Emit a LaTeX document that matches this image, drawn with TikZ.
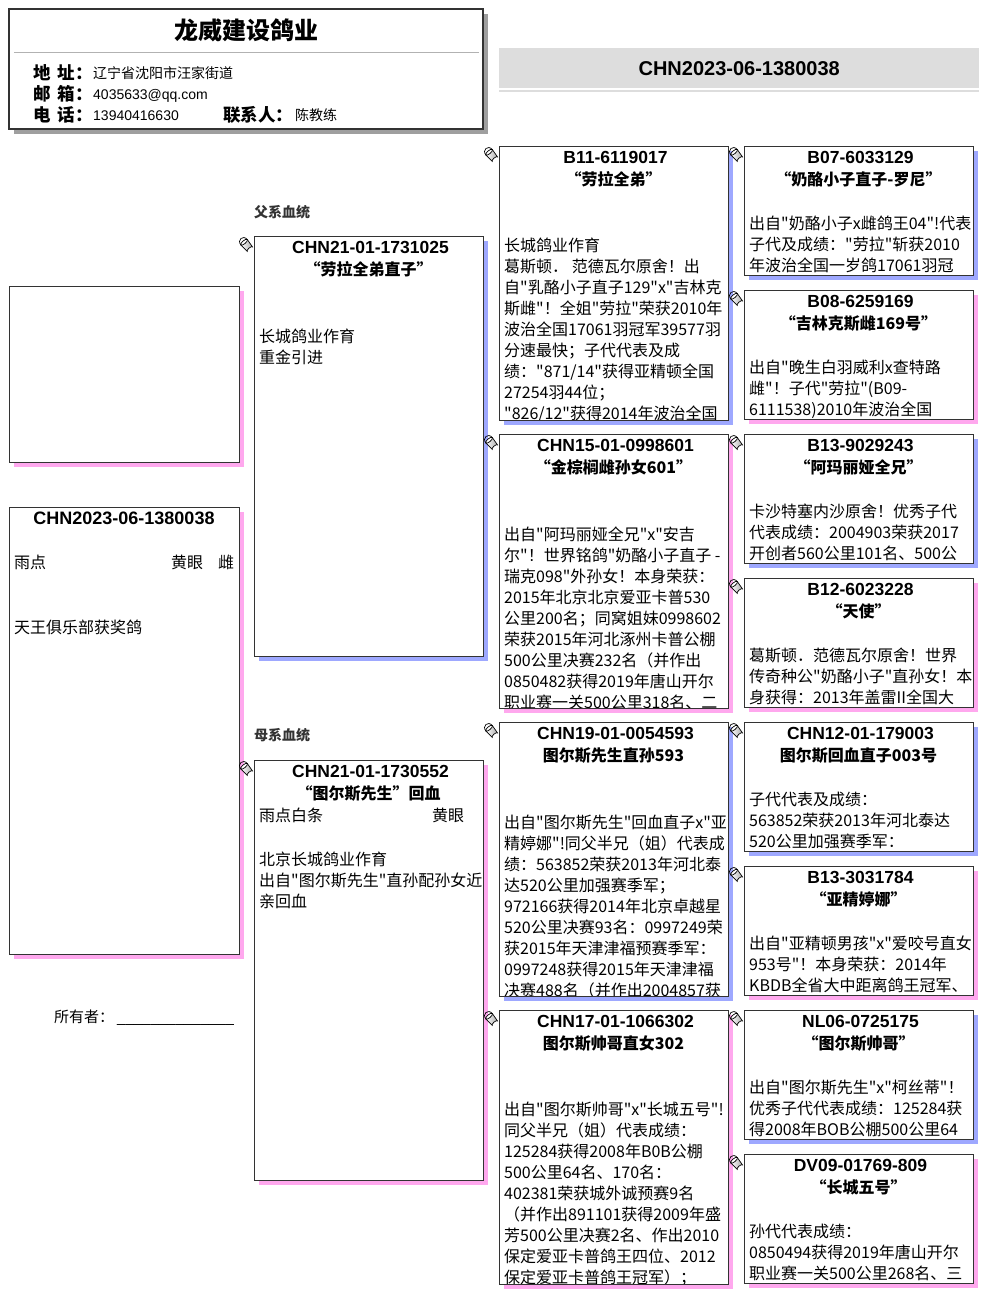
\documentclass[tikz,border=0pt]{standalone}
\usepackage{fontspec}
\setmainfont{Liberation Sans}
\newfontfamily\cjk{Noto Sans CJK SC}
\usetikzlibrary{shadows}
\definecolor{shblue}{RGB}{158,168,255}
\definecolor{shpink}{RGB}{255,168,238}
\definecolor{bord}{RGB}{51,51,51}
\definecolor{barg}{RGB}{221,221,221}
\newcommand\bodytext[4]{%
  \foreach \tline [count=\i] in {#4}{%
    \node[body] (#1-\i) at (#2,{#3+21*(\i-1)}) {\tline};
  }}
\newcommand\pail[1]{%
  \begin{scope}[shift={(#1)},xshift=-8pt,yshift=-8.5pt,rotate=40]
    \shade[left color=white,right color=gray!65,draw=black,line width=.7pt] (-4.2,-3) -- (-3.4,6) arc[start angle=180,end angle=360,x radius=3.4,y radius=1.3] -- (4.2,-3) -- cycle;
    \filldraw[fill=white,draw=black,line width=.7pt] (0,-3) ellipse [x radius=4.2, y radius=1.6];
    \draw[line width=.7pt] (-4.2,-3) .. controls (-4.2,-9.5) and (4.2,-9.5) .. (4.2,-3);
  \end{scope}}
\newcommand\clipbox[1]{\clip ([shift={(0.6pt,-0.6pt)}]#1.north west) rectangle ([shift={(-0.6pt,0.6pt)}]#1.south east);}
\begin{document}
\begin{tikzpicture}[x=1pt,y=-1pt,
  box/.style={draw=bord,line width=1pt,fill=white,anchor=north west,inner sep=0pt,outer sep=0pt,minimum width=229pt},
  bsh/.style={drop shadow={shadow xshift=4.5pt,shadow yshift=-4.5pt,fill=shblue,opacity=1}},
  psh/.style={drop shadow={shadow xshift=4.5pt,shadow yshift=-4.5pt,fill=shpink,opacity=1}},
  body/.style={font=\cjk\fontsize{16}{19}\selectfont,anchor=west,inner sep=0pt,text height=14.08pt,text depth=1.92pt},
  idt/.style={font=\bfseries\fontsize{17.5}{20}\selectfont,inner sep=0pt,text height=15.4pt,text depth=2.1pt},
  nmt/.style={font=\cjk\bfseries\fontsize{16}{19}\selectfont,inner sep=0pt,text height=14.08pt,text depth=1.92pt},
  lbl/.style={font=\cjk\bfseries\fontsize{17.5}{20}\selectfont,anchor=west,inner sep=0pt,text height=15.4pt,text depth=2.1pt},
  val/.style={font=\fontsize{14}{16}\selectfont,anchor=west,inner sep=0pt,text height=12.32pt,text depth=1.68pt},
  side/.style={font=\cjk\bfseries\fontsize{14}{16}\selectfont,text=bord,anchor=west,inner sep=0pt,text height=12.32pt,text depth=1.68pt}]
\useasboundingbox (0,0) rectangle (986,1294);

% ---- header card
\node[draw=bord,line width=1.2pt,fill=white,anchor=north west,inner sep=0pt,outer sep=0pt,
  minimum width=474pt,minimum height=120pt,
  drop shadow={shadow xshift=4.5pt,shadow yshift=-4.5pt,fill=gray!75,opacity=1}] (hdr) at (9,9) {};
\node[font=\cjk\bfseries\fontsize{24}{28}\selectfont,inner sep=0pt,text height=21.1pt,text depth=2.9pt] (ttl) at (246.5,30) {龙威建设鸽业};
\coordinate (sepL) at (14,52);
\coordinate (sepR) at (479,52);
\draw[gray!60,line width=1pt] (sepL) -- (sepR);
\node[lbl] (l1) at (33,73) {地\hspace{7pt}址：};
\node[val] (v1) at (93,73) {\cjk 辽宁省沈阳市汪家街道};
\node[lbl] (l2) at (33,94) {邮\hspace{7pt}箱：};
\node[val] (v2) at (93,94) {4035633@qq.com};
\node[lbl] (l3) at (33,115) {电\hspace{7pt}话：};
\node[val] (v3) at (93,115) {13940416630};
\node[lbl] (l4) at (223,115) {联系人：};
\node[val] (v4) at (295,115) {\cjk 陈教练};

% ---- ring bar
\node[fill=barg,anchor=north west,inner sep=0pt,minimum width=480pt,minimum height=40pt,
  font=\bfseries\fontsize{20}{24}\selectfont,text height=17.6pt,text depth=2.4pt] (bar) at (499,48) {CHN2023-06-1380038};
\fill[barg] (499,90) rectangle (979,92);

% ---- left column
\node[box,minimum width=230pt,minimum height=176pt,psh] (photo) at (9,286) {};
\node[box,minimum width=230pt,minimum height=447pt,psh] (mb) at (9,507) {};
\node[idt,font=\bfseries\fontsize{18}{21}\selectfont,text height=15.84pt,text depth=2.16pt] (mb-id) at ([yshift=-11pt]mb.north) {CHN2023-06-1380038};
\node[body] (mb-c) at (14,562) {雨点};
\node[body] (mb-e) at (171,562) {黄眼};
\node[body] (mb-s) at (218,562) {雌};
\node[body] (mb-t) at (14,627) {天王俱乐部获奖鸽};
\node[font=\cjk\fontsize{15}{18}\selectfont,anchor=west,inner sep=0pt,text height=13.2pt,text depth=1.8pt] (own) at (54,1017) {所有者：\hspace{3pt}\rmfamily\_\_\_\_\_\_\_\_\_\_\_\_\_\_};

% ---- generation 1
\node[side] (fx) at (254,212) {父系血统};
\node[side] (mx) at (254,735) {母系血统};

\node[box,minimum height=420pt,bsh] (sire) at (254,236) {};
\node[idt] (sire-id) at ([xshift=2pt,yshift=-11pt]sire.north) {CHN21-01-1731025};
\node[nmt] (sire-nm) at ([yshift=-33pt]sire.north) {“劳拉全弟直子”};
\bodytext{sireb}{259}{336}{{长城鸽业作育},{重金引进}}
\pail{sire.north west}

\node[box,minimum height=420pt,psh] (dam) at (254,760) {};
\node[idt] (dam-id) at ([xshift=2pt,yshift=-11pt]dam.north) {CHN21-01-1730552};
\node[nmt] (dam-nm) at ([yshift=-33pt]dam.north) {“图尔斯先生”回血};
\node[body] (dam-c) at (259,815) {雨点白条};
\node[body] (dam-e) at (432,815) {黄眼};
\bodytext{damb}{259}{859}{{北京长城鸽业作育},{出自"图尔斯先生"直孙配孙女近},{亲回血}}
\pail{dam.north west}

% ---- generation 2
\node[box,minimum height=274pt,bsh] (g2a) at (499,146) {};
\node[idt] (g2a-id) at ([xshift=2pt,yshift=-11pt]g2a.north) {B11-6119017};
\node[nmt] (g2a-nm) at ([yshift=-33pt]g2a.north) {“劳拉全弟”};
\begin{scope}\clipbox{g2a}
\bodytext{g2a}{504}{245}{{长城鸽业作育},{葛斯顿． 范德瓦尔原舍！出},{自"乳酪小子直子129"x"吉林克},{斯雌"！全姐"劳拉"荣获2010年},{波治全国17061羽冠军39577羽},{分速最快；子代代表及成},{绩："871/14"获得亚精顿全国},{27254羽44位；},{"826/12"获得2014年波治全国}}
\end{scope}
\pail{g2a.north west}

\node[box,minimum height=274pt,psh] (g2b) at (499,434) {};
\node[idt] (g2b-id) at ([xshift=2pt,yshift=-11pt]g2b.north) {CHN15-01-0998601};
\node[nmt] (g2b-nm) at ([yshift=-33pt]g2b.north) {“金棕榈雌孙女601”};
\begin{scope}\clipbox{g2b}
\bodytext{g2b}{504}{534}{{出自"阿玛丽娅全兄"x"安吉},{尔"！世界铭鸽"奶酪小子直子 -},{瑞克098"外孙女！本身荣获：},{2015年北京北京爱亚卡普530},{公里200名；同窝姐妹0998602},{荣获2015年河北涿州卡普公棚},{500公里决赛232名（并作出},{0850482获得2019年唐山开尔},{职业赛一关500公里318名、二}}
\end{scope}
\pail{g2b.north west}

\node[box,minimum height=274pt,bsh] (g2c) at (499,722) {};
\node[idt] (g2c-id) at ([xshift=2pt,yshift=-11pt]g2c.north) {CHN19-01-0054593};
\node[nmt] (g2c-nm) at ([yshift=-33pt]g2c.north) {图尔斯先生直孙593};
\begin{scope}\clipbox{g2c}
\bodytext{g2c}{504}{822}{{出自"图尔斯先生"回血直子x"亚},{精婷娜"!同父半兄（姐）代表成},{绩：563852荣获2013年河北泰},{达520公里加强赛季军；},{972166获得2014年北京卓越星},{520公里决赛93名：0997249荣},{获2015年天津津福预赛季军：},{0997248获得2015年天津津福},{决赛488名（并作出2004857获}}
\end{scope}
\pail{g2c.north west}

\node[box,minimum height=274pt,psh] (g2d) at (499,1010) {};
\node[idt] (g2d-id) at ([xshift=2pt,yshift=-11pt]g2d.north) {CHN17-01-1066302};
\node[nmt] (g2d-nm) at ([yshift=-33pt]g2d.north) {图尔斯帅哥直女302};
\begin{scope}\clipbox{g2d}
\bodytext{g2d}{504}{1109}{{出自"图尔斯帅哥"x"长城五号"!},{同父半兄（姐）代表成绩：},{125284获得2008年B0B公棚},{500公里64名、170名：},{402381荣获城外诚预赛9名},{（并作出891101获得2009年盛},{芳500公里决赛2名、作出2010},{保定爱亚卡普鸽王四位、2012},{保定爱亚卡普鸽王冠军）；}}
\end{scope}
\pail{g2d.north west}

% ---- generation 3
\node[box,minimum height=129pt,bsh] (g3a) at (744,146) {};
\node[idt] (g3a-id) at ([xshift=2pt,yshift=-11pt]g3a.north) {B07-6033129};
\node[nmt] (g3a-nm) at ([yshift=-33pt]g3a.north) {“奶酪小子直子-罗尼”};
\begin{scope}\clipbox{g3a}
\bodytext{g3a}{749}{223}{{出自"奶酪小子x雌鸽王04"!代表},{子代及成绩："劳拉"斩获2010},{年波治全国一岁鸽17061羽冠}}
\end{scope}
\pail{g3a.north west}

\node[box,minimum height=129pt,psh] (g3b) at (744,290) {};
\node[idt] (g3b-id) at ([xshift=2pt,yshift=-11pt]g3b.north) {B08-6259169};
\node[nmt] (g3b-nm) at ([yshift=-33pt]g3b.north) {“吉林克斯雌169号”};
\begin{scope}\clipbox{g3b}
\bodytext{g3b}{749}{367}{{出自"晚生白羽威利x查特路},{雌"！子代"劳拉"(B09-},{6111538)2010年波治全国}}
\end{scope}
\pail{g3b.north west}

\node[box,minimum height=129pt,bsh] (g3c) at (744,434) {};
\node[idt] (g3c-id) at ([xshift=2pt,yshift=-11pt]g3c.north) {B13-9029243};
\node[nmt] (g3c-nm) at ([yshift=-33pt]g3c.north) {“阿玛丽娅全兄”};
\begin{scope}\clipbox{g3c}
\bodytext{g3c}{749}{511}{{卡沙特塞内沙原舍！优秀子代},{代表成绩：2004903荣获2017},{开创者560公里101名、500公}}
\end{scope}
\pail{g3c.north west}

\node[box,minimum height=129pt,psh] (g3d) at (744,578) {};
\node[idt] (g3d-id) at ([xshift=2pt,yshift=-11pt]g3d.north) {B12-6023228};
\node[nmt] (g3d-nm) at ([yshift=-33pt]g3d.north) {“天使”};
\begin{scope}\clipbox{g3d}
\bodytext{g3d}{749}{655}{{葛斯顿．范德瓦尔原舍！世界},{传奇种公"奶酪小子"直孙女！本},{身获得：2013年盖雷II全国大}}
\end{scope}
\pail{g3d.north west}

\node[box,minimum height=129pt,bsh] (g3e) at (744,722) {};
\node[idt] (g3e-id) at ([xshift=2pt,yshift=-11pt]g3e.north) {CHN12-01-179003};
\node[nmt] (g3e-nm) at ([yshift=-33pt]g3e.north) {图尔斯回血直子003号};
\begin{scope}\clipbox{g3e}
\bodytext{g3e}{749}{799}{{子代代表及成绩：},{563852荣获2013年河北泰达},{520公里加强赛季军：}}
\end{scope}
\pail{g3e.north west}

\node[box,minimum height=129pt,psh] (g3f) at (744,866) {};
\node[idt] (g3f-id) at ([xshift=2pt,yshift=-11pt]g3f.north) {B13-3031784};
\node[nmt] (g3f-nm) at ([yshift=-33pt]g3f.north) {“亚精婷娜”};
\begin{scope}\clipbox{g3f}
\bodytext{g3f}{749}{943}{{出自"亚精顿男孩"x"爱咬号直女},{953号"！本身荣获：2014年},{KBDB全省大中距离鸽王冠军、}}
\end{scope}
\pail{g3f.north west}

\node[box,minimum height=129pt,bsh] (g3g) at (744,1010) {};
\node[idt] (g3g-id) at ([xshift=2pt,yshift=-11pt]g3g.north) {NL06-0725175};
\node[nmt] (g3g-nm) at ([yshift=-33pt]g3g.north) {“图尔斯帅哥”};
\begin{scope}\clipbox{g3g}
\bodytext{g3g}{749}{1087}{{出自"图尔斯先生"x"柯丝蒂"！},{优秀子代代表成绩：125284获},{得2008年BOB公棚500公里64}}
\end{scope}
\pail{g3g.north west}

\node[box,minimum height=129pt,psh] (g3h) at (744,1154) {};
\node[idt] (g3h-id) at ([xshift=2pt,yshift=-11pt]g3h.north) {DV09-01769-809};
\node[nmt] (g3h-nm) at ([yshift=-33pt]g3h.north) {“长城五号”};
\begin{scope}\clipbox{g3h}
\bodytext{g3h}{749}{1231}{{孙代代表成绩：},{0850494获得2019年唐山开尔},{职业赛一关500公里268名、三}}
\end{scope}
\pail{g3h.north west}
\end{tikzpicture}
\end{document}
